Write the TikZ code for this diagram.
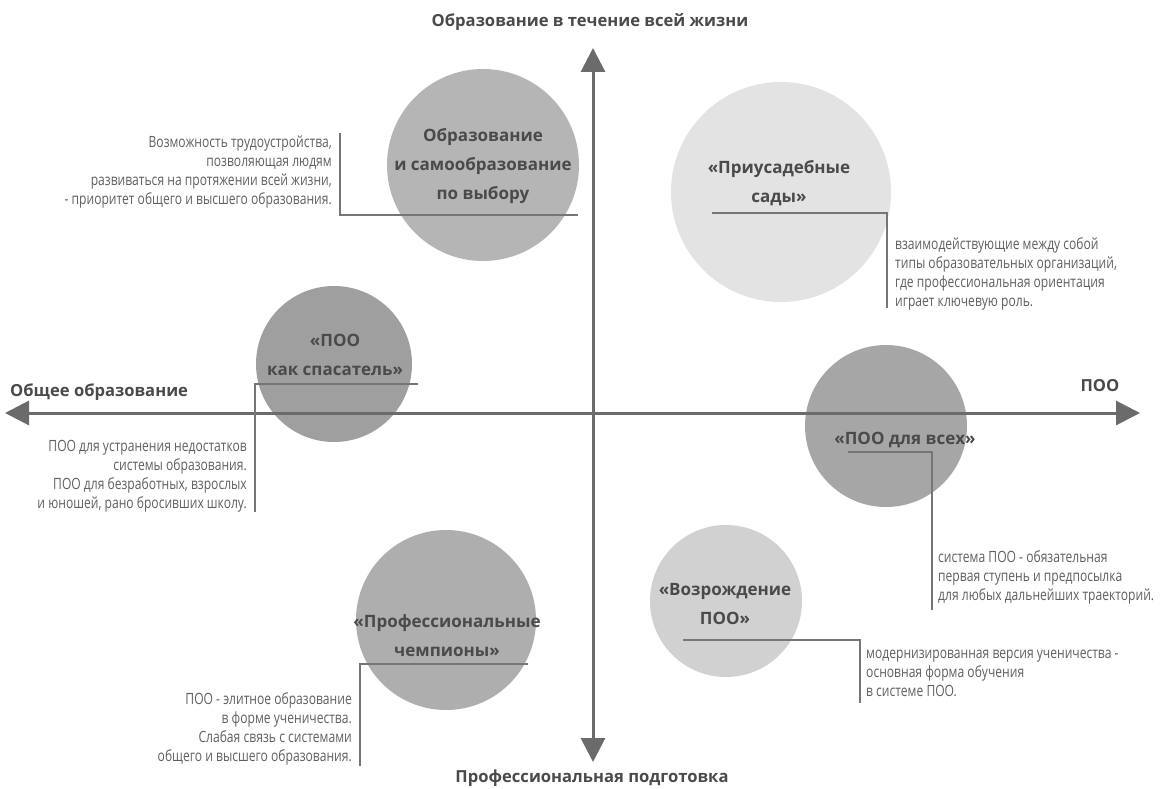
\documentclass[tikz,border=0pt]{standalone}
\usepackage{fontspec}
\setmainfont{Open Sans}
\newfontfamily\descfont[FakeStretch=0.78]{Open Sans}
\usetikzlibrary{arrows.meta}
\definecolor{axisc}{HTML}{6B6B6B}
\definecolor{leadc}{HTML}{767676}
\definecolor{headc}{HTML}{4A4A4A}
\definecolor{descc}{HTML}{606060}
\definecolor{cmid}{HTML}{B5B5B5}
\definecolor{cmidb}{HTML}{AEAEAE}
\definecolor{clight}{HTML}{E3E3E3}
\definecolor{cdark}{HTML}{9F9F9F}
\definecolor{cdarkb}{HTML}{A6A6A6}
\definecolor{cpale}{HTML}{D1D1D1}
\begin{document}
\begin{tikzpicture}[x=1pt,y=-1pt,
  bubble/.style={circle, draw=none, inner sep=0pt},
  head/.style={text=headc, font=\fontsize{17}{29}\selectfont\bfseries, align=center, inner sep=0pt},
  axislabel/.style={text=headc, font=\fontsize{16.6}{20}\selectfont\bfseries, inner sep=0pt},
  desc/.style={text=descc, font=\descfont\fontsize{15.5}{19}\selectfont, inner sep=0pt},
  leader/.style={draw=leadc, line width=1.4pt},
  axis/.style={draw=axisc, line width=3pt, -{Triangle[length=24pt,width=24pt]}}
]
\useasboundingbox (0,0) rectangle (1160,789);
\fill[white] (0,0) rectangle (1160,789);

% circles
\node[bubble, fill=cmid,   minimum size=192pt] (c1) at (483,165) {};
\node[bubble, fill=clight, minimum size=220pt] (c2) at (781,192) {};
\node[bubble, fill=cdark,  minimum size=156pt] (c3) at (334,364) {};
\node[bubble, fill=cdarkb, minimum size=162pt] (c4) at (886,426) {};
\node[bubble, fill=cpale,  minimum size=152pt] (c5) at (726,601) {};
\node[bubble, fill=cmidb,  minimum size=180pt] (c6) at (446,620) {};

% axes
\coordinate (o) at (593,413);
\coordinate (top) at (593,48);
\coordinate (bot) at (593,762);
\coordinate (lft) at (5,413);
\coordinate (rgt) at (1140,413);
\draw[axis] (o) -- (top);
\draw[axis] (o) -- (bot);
\draw[axis] (o) -- (lft);
\draw[axis] (o) -- (rgt);

\node[axislabel] (ltop) at (590,22) {Образование в течение всей жизни};
\node[axislabel] (lbot) at (592,778) {Профессиональная подготовка};
\node[axislabel, anchor=west] (lleft) at (10,392) {Общее образование};
\node[axislabel] (lright) at (1100,386) {ПОО};

% circle headings
\node[head] (h1) at (483,166) {Образование\\и самообразование\\по выбору};
\node[head] (h2) at (779,183) {«Приусадебные\\сады»};
\node[head] (h3) at (335,355) {«ПОО\\как спасатель»};
\node[head] (h4) at (905,440) {«ПОО для всех»};
\node[head] (h5) at (725,604) {«Возрождение\\ПОО»};
\node[head] (h6) at (447,636) {«Профессиональные\\чемпионы»};

% leaders and descriptions
\coordinate (a1) at (578,215); \coordinate (b1) at (340,215); \coordinate (e1) at (340,133);
\draw[leader] (a1) -- (b1) -- (e1);
\node[desc, anchor=north east, align=right] (d1) at (332,136)
  {Возможность трудоустройства,\\позволяющая людям\\развиваться на протяжении всей жизни,\\- приоритет общего и высшего образования.};

\coordinate (a2) at (712,213); \coordinate (b2) at (887,213); \coordinate (e2) at (887,308);
\draw[leader] (a2) -- (b2) -- (e2);
\node[desc, anchor=north west, align=left] (d2) at (895,237)
  {взаимодействующие между собой\\типы образовательных организаций,\\где профессиональная ориентация\\играет ключевую роль.};

\coordinate (a3) at (418,384); \coordinate (b3) at (255,384); \coordinate (e3) at (255,512);
\draw[leader] (a3) -- (b3) -- (e3);
\node[desc, anchor=north east, align=right] (d3) at (247,440)
  {ПОО для устранения недостатков\\системы образования.\\ПОО для безработных, взрослых\\и юношей, рано бросивших школу.};

\coordinate (a4) at (848,452); \coordinate (b4) at (932,452); \coordinate (e4) at (932,610);
\draw[leader] (a4) -- (b4) -- (e4);
\node[desc, anchor=north west, align=left] (d4) at (938,550)
  {система ПОО - обязательная\\первая ступень и предпосылка\\для любых дальнейших траекторий.};

\coordinate (a5) at (683,640); \coordinate (b5) at (860,640); \coordinate (e5) at (860,703);
\draw[leader] (a5) -- (b5) -- (e5);
\node[desc, anchor=north west, align=left] (d5) at (866,650)
  {модернизированная версия ученичества -\\основная форма обучения\\в системе ПОО.};

\coordinate (a6) at (528,664); \coordinate (b6) at (360,664); \coordinate (e6) at (360,766);
\draw[leader] (a6) -- (b6) -- (e6);
\node[desc, anchor=north east, align=right] (d6) at (352,692)
  {ПОО - элитное образование\\в форме ученичества.\\Слабая связь с системами\\общего и высшего образования.};
\end{tikzpicture}
\end{document}
